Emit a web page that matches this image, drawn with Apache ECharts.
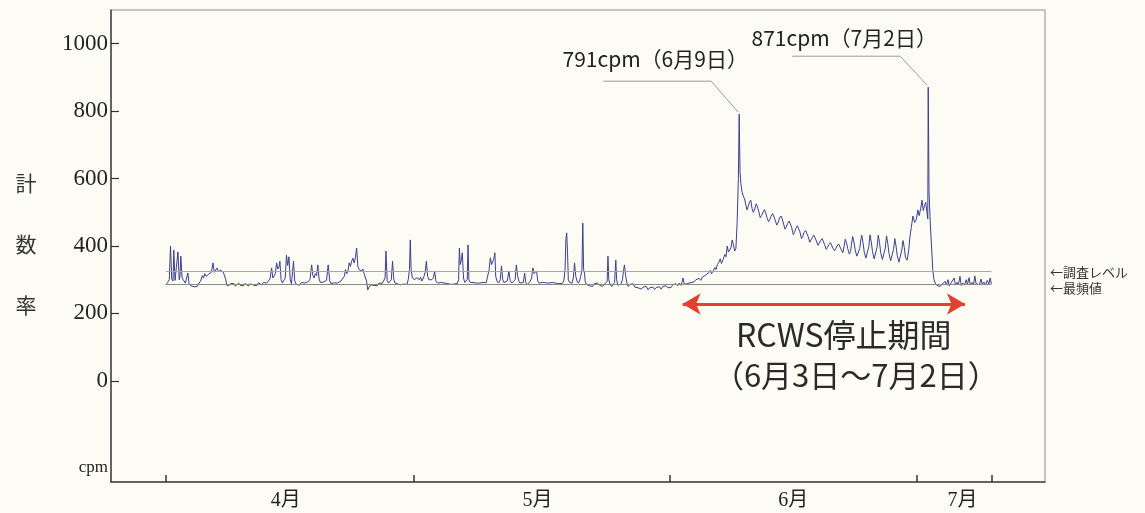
<!DOCTYPE html>
<html><head><meta charset="utf-8">
<script src="https://cdn.jsdelivr.net/npm/echarts@6/dist/echarts.min.js"></script>
<style>html,body{margin:0;padding:0;background:#fcfcf4;}#c{width:1145px;height:513px;}</style>
</head><body><div id="c"></div><script>
// ---- data (days counted from April 1) ----
const monthNames = ['4月', '5月', '6月', '7月'];
const monthLabelDays = [14.5, 45, 76, 96.5];
const monthTickDays = [0, 30, 61, 91, 100];
const yTicks = [0, 200, 400, 600, 800, 1000];
const surveyLevel = 326;   // 調査レベル
const modeLevel = 288;     // 最頻値
const stopPeriodDays = [62.6, 96.8];
const stopArrowLevel = 228;
const peakLabels = ['791cpm（6月9日）', '871cpm（7月2日）'];
const sideLabels = ['←調査レベル', '←最頻値'];
const stopText = ['RCWS停止期間', '（6月3日～7月2日）'];
const countSeries = [
[0.0,286],[0.2,292],[0.4,300],[0.55,400],[0.7,302],[0.85,296],[0.95,388],[1.1,298],[1.25,335],[1.45,382],[1.6,300],[1.7,310],[1.8,370],[1.95,305],[2.15,300],[2.35,290],[2.5,295],[2.65,320],[2.8,288],[3.0,282],[3.2,286],[3.4,279],[3.6,284],[3.8,280],[4.0,290],[4.2,296],[4.4,312],[4.55,305],[4.7,318],[4.85,310],[5.0,306],[5.15,316],[5.3,312],[5.5,322],[5.7,350],[5.85,322],[6.0,318],[6.2,335],[6.35,324],[6.5,320],[6.65,328],[6.8,332],[6.95,322],[7.1,326],[7.25,300],[7.35,284],[7.6,282],[7.8,288],[8.0,284],[8.2,289],[8.4,281],[8.6,286],[8.8,290],[9.0,283],[9.2,287],[9.4,282],[9.6,289],[9.8,284],[10.0,281],[10.2,288],[10.4,290],[10.6,284],[10.8,287],[11.0,282],[11.2,291],[11.4,286],[11.6,284],[11.8,292],[12.0,287],[12.2,290],[12.4,286],[12.6,302],[12.8,335],[12.95,305],[13.1,300],[13.25,318],[13.4,350],[13.55,332],[13.7,338],[13.8,355],[13.95,300],[14.1,290],[14.3,292],[14.45,305],[14.6,373],[14.75,342],[14.9,368],[15.05,300],[15.2,288],[15.3,286],[15.45,355],[15.6,296],[15.8,286],[16.0,290],[16.2,284],[16.4,292],[16.6,287],[16.8,290],[17.0,286],[17.2,294],[17.45,300],[17.65,344],[17.8,312],[17.95,305],[18.1,318],[18.25,312],[18.4,344],[18.55,302],[18.7,292],[18.9,288],[19.1,293],[19.3,288],[19.45,298],[19.65,344],[19.85,296],[20.0,288],[20.2,285],[20.4,291],[20.6,287],[20.8,290],[21.0,286],[21.2,296],[21.4,300],[21.6,310],[21.75,330],[21.9,318],[22.05,326],[22.2,350],[22.35,340],[22.5,355],[22.65,364],[22.8,350],[22.95,365],[23.1,394],[23.25,340],[23.4,330],[23.55,334],[23.7,326],[23.85,332],[24.0,318],[24.15,322],[24.3,296],[24.45,270],[24.6,278],[24.8,285],[25.0,288],[25.2,283],[25.4,287],[25.6,282],[25.8,290],[26.0,286],[26.2,289],[26.4,292],[26.55,305],[26.65,385],[26.8,298],[26.95,290],[27.1,293],[27.3,300],[27.45,355],[27.6,302],[27.75,290],[28.0,288],[28.2,292],[28.4,285],[28.6,290],[28.8,287],[29.0,291],[29.2,286],[29.35,300],[29.5,330],[29.6,418],[29.7,330],[29.85,305],[30.0,310],[30.15,300],[30.35,306],[30.5,303],[30.7,300],[30.85,308],[31.0,296],[31.2,305],[31.4,322],[31.55,355],[31.7,310],[31.85,300],[32.0,296],[32.2,300],[32.4,306],[32.55,326],[32.7,296],[32.9,290],[33.1,288],[33.3,292],[33.5,287],[33.7,290],[33.9,285],[34.1,289],[34.3,291],[34.5,286],[34.7,290],[34.9,287],[35.1,291],[35.3,289],[35.45,300],[35.55,394],[35.65,345],[35.8,360],[35.9,380],[36.05,305],[36.2,292],[36.35,288],[36.5,300],[36.6,403],[36.7,300],[36.85,292],[37.0,288],[37.2,292],[37.4,287],[37.6,290],[37.8,285],[38.0,290],[38.2,288],[38.4,292],[38.6,287],[38.8,291],[39.0,296],[39.15,330],[39.3,365],[39.45,345],[39.6,350],[39.7,360],[39.85,380],[39.95,310],[40.1,296],[40.3,290],[40.5,300],[40.65,341],[40.8,300],[40.95,292],[41.15,290],[41.35,296],[41.55,326],[41.7,298],[41.9,290],[42.1,288],[42.3,300],[42.45,344],[42.6,312],[42.75,296],[42.9,290],[43.1,287],[43.3,292],[43.45,320],[43.6,292],[43.75,285],[43.9,290],[44.1,294],[44.3,305],[44.45,335],[44.6,318],[44.75,322],[44.9,326],[45.05,296],[45.2,290],[45.4,288],[45.6,292],[45.8,287],[46.0,291],[46.2,286],[46.4,290],[46.6,288],[46.8,292],[47.0,287],[47.2,290],[47.4,293],[47.6,288],[47.8,291],[48.0,289],[48.2,296],[48.35,330],[48.45,420],[48.55,439],[48.65,380],[48.75,300],[48.9,292],[49.05,296],[49.2,290],[49.35,305],[49.5,350],[49.65,310],[49.8,296],[49.95,290],[50.1,296],[50.25,310],[50.4,330],[50.5,468],[50.6,330],[50.7,320],[50.8,294],[50.95,286],[51.1,290],[51.3,282],[51.5,286],[51.7,280],[51.9,288],[52.1,283],[52.3,290],[52.5,284],[52.7,288],[52.9,280],[53.1,286],[53.3,283],[53.45,295],[53.55,370],[53.65,300],[53.8,286],[54.0,280],[54.2,284],[54.35,292],[54.5,358],[54.6,300],[54.75,284],[54.9,280],[55.1,286],[55.3,300],[55.45,330],[55.55,344],[55.7,310],[55.85,290],[56.0,280],[56.2,286],[56.4,282],[56.6,288],[56.8,278],[57.0,283],[57.2,276],[57.4,281],[57.6,272],[57.8,278],[58.0,274],[58.2,280],[58.4,270],[58.6,276],[58.8,272],[59.0,278],[59.2,271],[59.4,277],[59.6,273],[59.8,279],[60.0,272],[60.2,280],[60.4,275],[60.6,282],[60.8,276],[61.0,280],[61.2,277],[61.4,285],[61.6,281],[61.8,288],[62.0,282],[62.2,290],[62.4,283],[62.55,295],[62.65,305],[62.8,286],[63.0,282],[63.2,289],[63.4,284],[63.6,291],[63.8,286],[64.0,294],[64.2,300],[64.4,296],[64.6,304],[64.8,298],[65.0,308],[65.2,304],[65.4,314],[65.6,310],[65.8,322],[65.95,328],[66.1,318],[66.3,326],[66.5,336],[66.65,330],[66.8,345],[67.0,352],[67.15,362],[67.3,348],[67.5,360],[67.7,375],[67.85,368],[68.0,400],[68.15,382],[68.3,378],[68.45,395],[68.6,418],[68.75,404],[68.9,385],[69.05,392],[69.2,470],[69.35,600],[69.45,791],[69.55,620],[69.65,585],[69.8,560],[69.95,548],[70.1,540],[70.25,522],[70.4,507],[70.55,518],[70.7,530],[70.85,536],[71.0,512],[71.15,500],[71.3,506],[71.5,525],[71.65,518],[71.8,504],[72.0,484],[72.15,490],[72.3,498],[72.5,508],[72.65,500],[72.8,485],[73.0,472],[73.15,478],[73.3,488],[73.5,496],[73.65,492],[73.8,478],[74.0,462],[74.15,468],[74.3,480],[74.5,489],[74.65,482],[74.8,468],[75.0,450],[75.15,456],[75.3,466],[75.5,474],[75.65,470],[75.8,456],[76.0,434],[76.15,440],[76.3,452],[76.5,460],[76.65,455],[76.8,442],[77.0,422],[77.15,428],[77.3,440],[77.5,446],[77.65,442],[77.8,428],[78.0,411],[78.15,418],[78.3,425],[78.5,432],[78.65,428],[78.8,415],[79.0,402],[79.15,408],[79.3,416],[79.5,422],[79.65,418],[79.8,404],[80.0,390],[80.15,396],[80.3,404],[80.5,410],[80.65,406],[80.8,394],[81.0,386],[81.15,392],[81.3,400],[81.5,406],[81.65,402],[81.8,390],[82.0,380],[82.15,398],[82.3,420],[82.45,410],[82.6,392],[82.8,376],[82.95,384],[83.05,405],[83.2,428],[83.35,412],[83.5,388],[83.7,370],[83.9,366],[84.05,392],[84.2,420],[84.3,432],[84.45,410],[84.6,382],[84.8,364],[85.0,362],[85.15,398],[85.3,433],[85.45,412],[85.6,384],[85.8,362],[86.0,360],[86.15,396],[86.3,432],[86.45,410],[86.6,380],[86.8,360],[87.0,362],[87.15,394],[87.3,430],[87.45,408],[87.6,378],[87.8,356],[88.0,358],[88.15,390],[88.3,422],[88.45,400],[88.6,372],[88.8,352],[89.0,356],[89.15,388],[89.3,416],[89.45,396],[89.6,365],[89.8,358],[90.0,390],[90.15,430],[90.3,455],[90.5,489],[90.7,470],[90.9,478],[91.1,507],[91.25,490],[91.45,512],[91.6,536],[91.75,505],[91.9,520],[92.05,530],[92.2,500],[92.3,480],[92.35,871],[92.45,560],[92.6,468],[92.75,400],[92.9,330],[93.05,300],[93.2,290],[93.4,283],[93.6,287],[93.8,280],[94.0,286],[94.2,282],[94.4,295],[94.55,284],[94.75,300],[94.9,282],[95.1,290],[95.3,286],[95.5,305],[95.65,284],[95.85,292],[96.0,285],[96.2,310],[96.35,283],[96.55,290],[96.75,284],[96.95,300],[97.1,286],[97.3,306],[97.45,284],[97.65,292],[97.85,286],[98.0,311],[98.15,288],[98.35,292],[98.55,285],[98.75,302],[98.9,286],[99.1,293],[99.3,284],[99.5,298],[99.7,287],[99.85,305],[100.0,288]
];

// ---- chart ----
const serif = '"Liberation Serif", "Noto Sans CJK JP", serif';
const sans = '"Noto Sans CJK JP", "Noto Sans", sans-serif';
const firstDay = countSeries[0][0];
const lastDay = countSeries[countSeries.length - 1][0];

const chart = echarts.init(document.getElementById('c'), null, { renderer: 'canvas' });
chart.setOption({
  animation: false,
  backgroundColor: '#fcfcf4',
  grid: { left: 111, right: 100, top: 10, bottom: 31, show: true, borderColor: '#8c8c8c', borderWidth: 1 },
  xAxis: {
    type: 'value', min: -6.66, max: 106.5,
    axisLine: { show: true, onZero: false, lineStyle: { color: '#444', width: 1.5 } },
    axisTick: { show: true, inside: true, length: 7, customValues: monthTickDays, lineStyle: { color: '#333', width: 1.5 } },
    axisLabel: {
      customValues: monthLabelDays,
      formatter: function (v) { const i = monthLabelDays.indexOf(v); return i >= 0 ? monthNames[i] : ''; },
      fontFamily: serif, fontSize: 20, color: '#222', margin: 9
    },
    splitLine: { show: false }
  },
  yAxis: {
    type: 'value', min: -300, max: 1100,
    axisLine: { show: true, onZero: false, lineStyle: { color: '#444', width: 1.5 } },
    axisTick: { show: true, inside: true, length: 8, customValues: yTicks, lineStyle: { color: '#333', width: 1.2 } },
    axisLabel: { customValues: yTicks, formatter: function (v) { return String(v); }, fontFamily: serif, fontSize: 23, color: '#222', margin: 3 },
    splitLine: { show: false }
  },
  series: [{
    type: 'line',
    data: countSeries,
    showSymbol: false,
    symbol: 'none',
    lineStyle: { color: '#3b3f8e', width: 1 },
    z: 3,
    markLine: {
      silent: true, animation: false,
      symbol: 'none', symbolSize: [16, 18],
      label: { show: false },
      data: [
        [{ coord: [firstDay, surveyLevel], lineStyle: { color: '#a8a8a0', width: 1, type: 'solid' } }, { coord: [lastDay, surveyLevel] }],
        [{ coord: [firstDay, modeLevel], lineStyle: { color: '#8a8a84', width: 1, type: 'solid' } }, { coord: [lastDay, modeLevel] }],
        [{ coord: [stopPeriodDays[0], stopArrowLevel], symbol: 'arrow', lineStyle: { color: '#e2412f', width: 3, type: 'solid' } },
         { coord: [stopPeriodDays[1], stopArrowLevel], symbol: 'arrow' }]
      ]
    }
  }]
});

// ---- annotations placed from data coordinates ----
function P(d, v) { return chart.convertToPixel({ gridIndex: 0 }, [d, v]); }
function peakIn(lo, hi) {
  let best = null;
  countSeries.forEach(function (p) { if (p[0] >= lo && p[0] < hi && (!best || p[1] > best[1])) best = p; });
  return best;
}
const peaks = [peakIn(firstDay, 80), peakIn(80, lastDay + 1)];
const leaderLayout = [{ lineDy: -33, textDy: -55 }, { lineDy: -31, textDy: -49 }];
const g = [];
peaks.forEach(function (pk, i) {
  const p = P(pk[0], pk[1]);
  const L = leaderLayout[i];
  g.push({ type: 'polyline', silent: true, shape: { points: [[p[0] - 136, p[1] + L.lineDy], [p[0] - 28, p[1] + L.lineDy], [p[0] - 1, p[1] - 2]] },
    style: { stroke: '#9c9c98', lineWidth: 1, fill: null } });
  g.push({ type: 'text', silent: true, x: p[0] - 84, y: p[1] + L.textDy,
    style: { text: peakLabels[i], font: '21px ' + sans, fill: '#222', align: 'center', verticalAlign: 'middle' } });
});
const gridRight = P(106.5, 0)[0];
const ySurvey = P(0, surveyLevel)[1];
const yMode = P(0, modeLevel)[1];
g.push({ type: 'text', silent: true, x: gridRight + 5, y: ySurvey + 1,
  style: { text: sideLabels[0], font: '13px ' + sans, fill: '#333', align: 'left', verticalAlign: 'middle' } });
g.push({ type: 'text', silent: true, x: gridRight + 5, y: yMode + 4,
  style: { text: sideLabels[1], font: '13px ' + sans, fill: '#333', align: 'left', verticalAlign: 'middle' } });
const a0 = P(stopPeriodDays[0], stopArrowLevel), a1 = P(stopPeriodDays[1], stopArrowLevel);
const acx = (a0[0] + a1[0]) / 2, acy = a0[1];
g.push({ type: 'text', silent: true, x: acx + 20, y: acy + 31,
  style: { text: stopText[0], font: '32px ' + sans, fill: '#2a2a2a', align: 'center', verticalAlign: 'middle' } });
g.push({ type: 'text', silent: true, x: acx + 32, y: acy + 71,
  style: { text: stopText[1], font: '31px ' + sans, fill: '#2a2a2a', align: 'center', verticalAlign: 'middle' } });
// axis name and unit
g.push({ type: 'text', silent: true, x: 26, y: 244,
  style: { text: '計\n数\n率', font: '21px ' + sans, fill: '#333', align: 'center', verticalAlign: 'middle', lineHeight: 61 } });
g.push({ type: 'text', silent: true, x: P(-6.66, 0)[0] - 3, y: P(0, -258)[1],
  style: { text: 'cpm', font: '17px ' + serif, fill: '#222', align: 'right', verticalAlign: 'middle' } });
chart.setOption({ graphic: g });
</script></body></html>
